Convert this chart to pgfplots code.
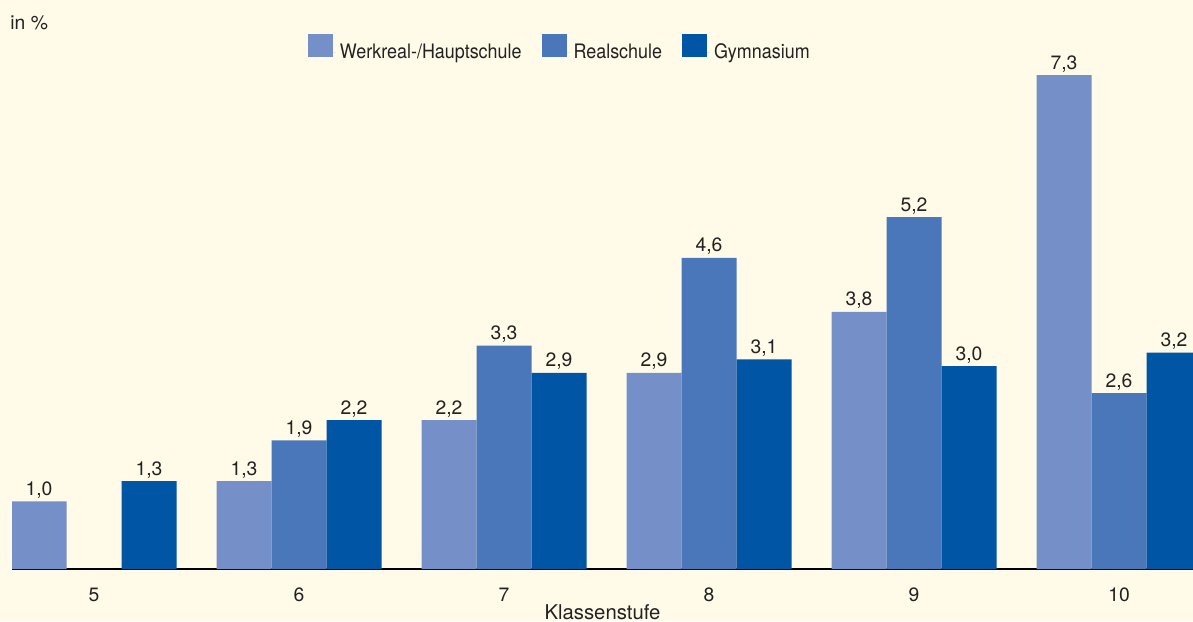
\documentclass[border=0pt]{standalone}
\usepackage{pgfplots}
\pgfplotsset{compat=1.18}
\usepackage{fontspec}
\setmainfont{TeX Gyre Heros}
\newfontfamily\narrowfont[FakeStretch=0.9]{TeX Gyre Heros}
\definecolor{bgc}{HTML}{FFFBE8}
\definecolor{cA}{HTML}{7590C9}
\definecolor{cB}{HTML}{4A77BA}
\definecolor{cC}{HTML}{0055A4}
\definecolor{txt}{HTML}{222222}
\newcommand{\nfont}{\fontsize{9.7}{12}\selectfont}
\newcommand{\lfont}{\narrowfont\fontsize{10}{12}\selectfont}
\begin{document}
\begin{tikzpicture}[x=1bp,y=1bp]
\fill[bgc] (-6,-26) rectangle (590.5,284.5);
\useasboundingbox (-6,-26) rectangle (590.5,284.5);
\begin{axis}[
  at={(0,0)}, anchor=south west,
  scale only axis, width=590.5bp, height=284.5bp,
  xmin=-0.4, xmax=5.361, ymin=0, ymax=8.41,
  ybar=0pt, bar width=27.5bp,
  axis x line=bottom, axis y line=none,
  x axis line style={-, line width=0.75bp, black},
  xtick={0,1,2,3,4,5}, xticklabels={5,6,7,8,9,10},
  xtick style={draw=none}, ytick=\empty,
  xticklabel style={font=\nfont, text=txt, anchor=base, yshift=-14bp},
  xlabel={Klassenstufe},
  xlabel style={font=\fontsize{10.2}{12}\selectfont, text=txt, at={(axis description cs:0.5,0)}, anchor=base, yshift=-25.3bp},
  /pgf/number format/assume math mode=true,
  nodes near coords,
  nodes near coords style={font=\nfont, text=txt, anchor=base, yshift=3bp,
    /pgf/number format/.cd, fixed, fixed zerofill, precision=1, use comma, assume math mode=true},
  legend columns=3,
  legend style={at={(axis description cs:0.2506,0.9120)}, anchor=west, draw=none, fill=none,
    font=\lfont, text=txt, inner sep=0pt, outer sep=0pt,
    /tikz/every even column/.append style={column sep=8bp}},
  legend image code/.code={\fill[#1] (0bp,-2.35bp) rectangle (12.5bp,9.15bp); \path (0bp,0bp) -- (14bp,0bp);},
]
\addplot[fill=cA, draw=none] coordinates {(0,1.0) (1,1.3) (2,2.2) (3,2.9) (4,3.8) (5,7.3)};
\addlegendentry{Werkreal-/Hauptschule}
\addplot[fill=cB, draw=none] coordinates {(1,1.9) (2,3.3) (3,4.6) (4,5.2) (5,2.6)};
\addlegendentry{Realschule}
\addplot[fill=cC, draw=none] coordinates {(0,1.3) (1,2.2) (2,2.9) (3,3.1) (4,3.0) (5,3.2)};
\addlegendentry{Gymnasium}
\end{axis}
\node[anchor=base west, font=\nfont, text=txt, inner sep=0pt] at (-1,270) {in \%};
\end{tikzpicture}
\end{document}
